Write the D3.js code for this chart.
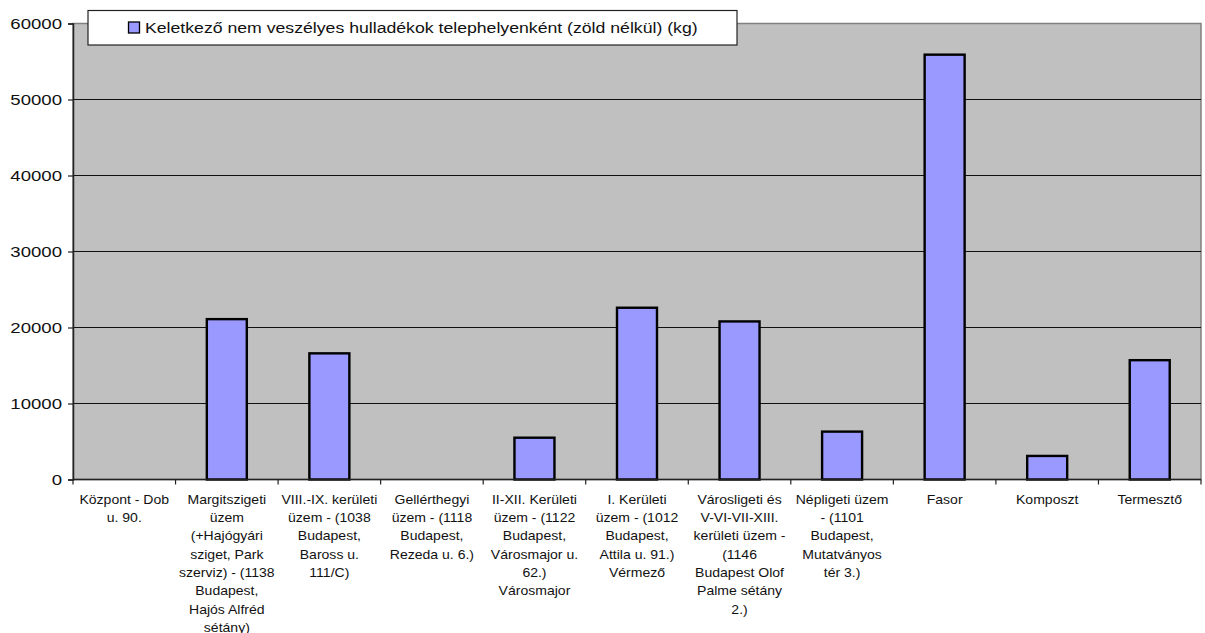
<!DOCTYPE html>
<html>
<head>
<meta charset="utf-8">
<script src="https://cdn.jsdelivr.net/npm/d3@7"></script>
<style>
  html, body { margin: 0; padding: 0; background: #fff; }
  svg { display: block; }
  text { font-family: "Liberation Sans", Arial, sans-serif; fill: #111; }
</style>
</head>
<body>
<svg id="chart" width="1205" height="633"></svg>
<script>
// ---- data ----
const categories = [
  "Központ - Dob u. 90.",
  "Margitszigeti üzem (+Hajógyári sziget, Park szerviz) - (1138 Budapest, Hajós Alfréd sétány)",
  "VIII.-IX. kerületi üzem - (1038 Budapest, Baross u. 111/C)",
  "Gellérthegyi üzem - (1118 Budapest, Rezeda u. 6.)",
  "II-XII. Kerületi üzem - (1122 Budapest, Városmajor u. 62.) Városmajor",
  "I. Kerületi üzem - (1012 Budapest, Attila u. 91.) Vérmező",
  "Városligeti és V-VI-VII-XIII. kerületi üzem - (1146 Budapest Olof Palme sétány 2.)",
  "Népligeti üzem - (1101 Budapest, Mutatványos tér 3.)",
  "Fasor",
  "Komposzt",
  "Termesztő"
];
const categoryLines = [
  ["Központ - Dob", "u. 90."],
  ["Margitszigeti", "üzem", "(+Hajógyári", "sziget, Park", "szerviz) - (1138", "Budapest,", "Hajós Alfréd", "sétány)"],
  ["VIII.-IX. kerületi", "üzem - (1038", "Budapest,", "Baross u.", "111/C)"],
  ["Gellérthegyi", "üzem - (1118", "Budapest,", "Rezeda u. 6.)"],
  ["II-XII. Kerületi", "üzem - (1122", "Budapest,", "Városmajor u.", "62.)", "Városmajor"],
  ["I. Kerületi", "üzem - (1012", "Budapest,", "Attila u. 91.)", "Vérmező"],
  ["Városligeti és", "V-VI-VII-XIII.", "kerületi üzem -", "(1146", "Budapest Olof", "Palme sétány", "2.)"],
  ["Népligeti üzem", "- (1101", "Budapest,", "Mutatványos", "tér 3.)"],
  ["Fasor"],
  ["Komposzt"],
  ["Termesztő"]
];
const values = [null, 21100, 16600, null, 5500, 22600, 20800, 6300, 55900, 3100, 15700];
const seriesName = "Keletkező nem veszélyes hulladékok telephelyenként (zöld nélkül) (kg)";
const yTicks = [0, 10000, 20000, 30000, 40000, 50000, 60000];

// ---- layout ----
const svg = d3.select("#chart");
const plot = { left: 73, right: 1201, top: 23.5, bottom: 479.5 };
const barFill = "#9999FF";
const plotBg = "#C0C0C0";

const x = d3.scaleBand().domain(categories).range([plot.left, plot.right]).padding(0);
const y = d3.scaleLinear().domain([0, 60000]).range([plot.bottom, plot.top]);

// plot background
svg.append("rect")
  .attr("x", plot.left).attr("y", plot.top)
  .attr("width", plot.right - plot.left).attr("height", plot.bottom - plot.top)
  .attr("fill", plotBg).attr("stroke", "#808080").attr("stroke-width", 1.5);

// gridlines
svg.append("g").selectAll("line")
  .data(yTicks.filter(d => d > 0 && d < 60000))
  .join("line")
  .attr("x1", plot.left).attr("x2", plot.right)
  .attr("y1", d => y(d)).attr("y2", d => y(d))
  .attr("stroke", "#111").attr("stroke-width", 1);

// bars
const bw = x.bandwidth() * 0.39;
svg.append("g").selectAll("rect")
  .data(categories.map((c, i) => ({ c, v: values[i] })).filter(d => d.v != null))
  .join("rect")
  .attr("x", d => x(d.c) + x.bandwidth() / 2 - bw / 2)
  .attr("width", bw)
  .attr("y", d => y(d.v))
  .attr("height", d => y(0) - y(d.v))
  .attr("fill", barFill)
  .attr("stroke", "#000")
  .attr("stroke-width", 2.4);

// y axis
const ySx = 1.2;
const yAxis = svg.append("g")
  .attr("transform", `translate(${plot.left},0)`)
  .call(d3.axisLeft(y).tickValues(yTicks).tickSize(5).tickPadding(6).tickFormat(d3.format("d")));
yAxis.select(".domain").attr("stroke", "#222").attr("stroke-width", 1.5);
yAxis.selectAll(".tick line").attr("stroke", "#222").attr("stroke-width", 1.2);
yAxis.selectAll(".tick text")
  .attr("font-size", 15.5)
  .attr("font-family", '"Liberation Sans", Arial, sans-serif')
  .attr("fill", "#111")
  .attr("x", -11 / ySx)
  .attr("transform", `scale(${ySx},1)`);

// x axis line + ticks at band boundaries
const xg = svg.append("g");
xg.append("line")
  .attr("x1", plot.left).attr("x2", plot.right)
  .attr("y1", y(0)).attr("y2", y(0))
  .attr("stroke", "#222").attr("stroke-width", 1.5);
const boundaries = categories.map(c => x(c)).concat([plot.right]);
xg.selectAll("line.tk").data(boundaries).join("line")
  .attr("class", "tk")
  .attr("x1", d => d).attr("x2", d => d)
  .attr("y1", y(0)).attr("y2", y(0) + 5)
  .attr("stroke", "#222").attr("stroke-width", 1.2);

// category labels
const cSx = 1.08;
const lineH = 18.4;
const firstBase = 503.5;
const labels = svg.append("g");
categories.forEach((c, i) => {
  const cx = x(c) + x.bandwidth() / 2;
  const t = labels.append("text")
    .attr("transform", `translate(${cx},${firstBase}) scale(${cSx},1)`)
    .attr("text-anchor", "middle")
    .attr("font-size", 13);
  categoryLines[i].forEach((ln, j) => {
    t.append("tspan").attr("x", 0).attr("y", j * lineH).text(ln);
  });
});

// legend
const lg = svg.append("g");
lg.append("rect")
  .attr("x", 88).attr("y", 10.5).attr("width", 649).attr("height", 34.5)
  .attr("fill", "#fff").attr("stroke", "#222").attr("stroke-width", 1.2);
lg.append("rect")
  .attr("x", 128.5).attr("y", 22).attr("width", 11).attr("height", 11)
  .attr("fill", barFill).attr("stroke", "#000").attr("stroke-width", 1.3);
lg.append("text")
  .attr("transform", `translate(145,33) scale(1.14,1)`)
  .attr("font-size", 15.5)
  .text(seriesName);
</script>
</body>
</html>
